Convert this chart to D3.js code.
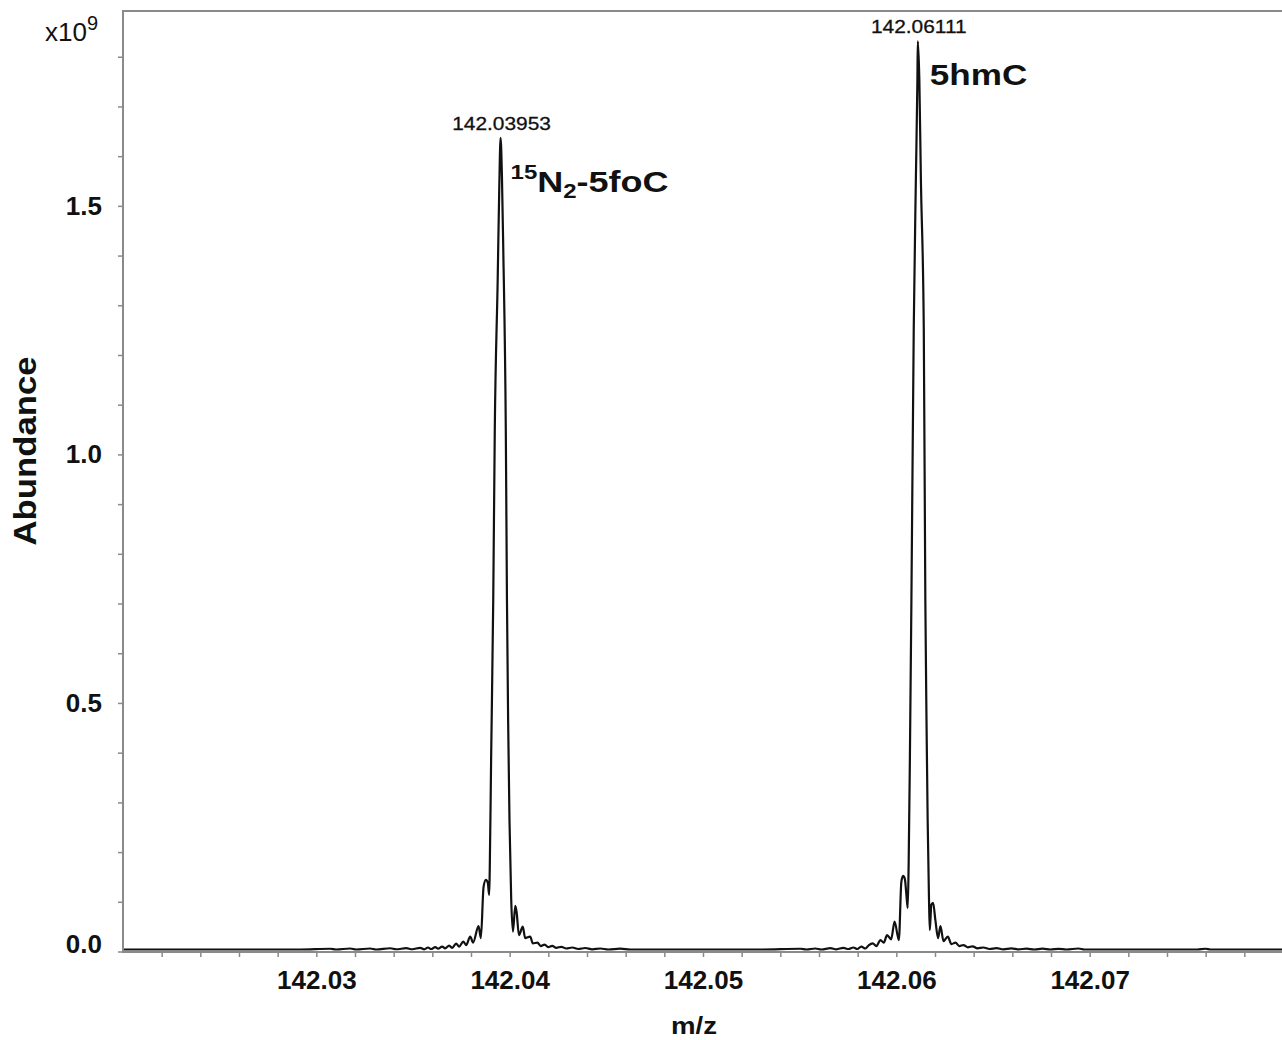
<!DOCTYPE html>
<html>
<head>
<meta charset="utf-8">
<script src="https://cdn.jsdelivr.net/npm/d3@7"></script>
<style>
  body { margin: 0; background: #fff; }
  svg { display: block; font-family: "Liberation Sans", Arial, sans-serif; }
</style>
</head>
<body>
<svg id="spectrum" width="1282" height="1040"></svg>
<script>
// Spectrum, m/z and abundance (x10^9), split in stretches
const leftMz = [142.02000, 142.02916, 142.03071, 142.03102, 142.03175, 142.03206, 142.03278, 142.03309,
  142.03382, 142.03413, 142.03465, 142.03496];
const leftAb = [0.004, 0.004, 0.0055, 0.004, 0.006, 0.004, 0.006, 0.004,
  0.0065, 0.0045, 0.0067, 0.0045];

const peak1Mz = [142.03537, 142.03558, 142.03578, 142.03594, 142.03615, 142.03630, 142.03651, 142.03666,
  142.03687, 142.03703, 142.03723, 142.03739, 142.03760, 142.03775, 142.03796, 142.03811,
  142.03839, 142.03851, 142.03865, 142.03877, 142.03887, 142.03894, 142.03897, 142.03904,
  142.03915, 142.03923, 142.03938, 142.03946, 142.03953, 142.03960, 142.03967, 142.03980,
  142.03986, 142.03992, 142.03999, 142.04008, 142.04017, 142.04029, 142.04036, 142.04048,
  142.04068, 142.04080, 142.04106, 142.04120, 142.04144, 142.04161, 142.04181, 142.04199,
  142.04220, 142.04241, 142.04267, 142.04293, 142.04324, 142.04355, 142.04391, 142.04427,
  142.04469, 142.04510, 142.04572, 142.04624];
const peak1Ab = [0.0074, 0.0044, 0.008, 0.005, 0.009, 0.0056, 0.010, 0.0064,
  0.012, 0.0074, 0.016, 0.010, 0.020, 0.013, 0.030, 0.018,
  0.051, 0.027, 0.130, 0.144, 0.138, 0.114, 0.164, 0.385,
  0.707, 1.049, 1.351, 1.532, 1.637, 1.560, 1.411, 1.049,
  0.707, 0.466, 0.265, 0.104, 0.040, 0.092, 0.079, 0.033,
  0.050, 0.027, 0.030, 0.0165, 0.0177, 0.011, 0.014, 0.009,
  0.0115, 0.0074, 0.0095, 0.006, 0.008, 0.005, 0.007, 0.0044,
  0.006, 0.004, 0.0056, 0.004];

const midMz = [142.04986, 142.05297, 142.05504, 142.05535, 142.05581, 142.05612, 142.05659, 142.05690,
  142.05726, 142.05752, 142.05778, 142.05798, 142.05819, 142.05840];
const midAb = [0.004, 0.004, 0.0055, 0.004, 0.006, 0.004, 0.0067, 0.0044,
  0.0074, 0.005, 0.008, 0.005, 0.010, 0.006];

const peak2Mz = [142.05858, 142.05878, 142.05897, 142.05918, 142.05935, 142.05952, 142.05973, 142.05991,
  142.06013, 142.06026, 142.06035, 142.06044, 142.06052, 142.06059, 142.06064, 142.06070,
  142.06078, 142.06090, 142.06101, 142.06109, 142.06111, 142.06119, 142.06127, 142.06142,
  142.06150, 142.06156, 142.06162, 142.06169, 142.06173, 142.06181, 142.06190, 142.06202,
  142.06216, 142.06228, 142.06244, 142.06266, 142.06285, 142.06306, 142.06326, 142.06347,
  142.06370, 142.06394, 142.06419, 142.06451, 142.06482, 142.06518, 142.06554, 142.06595,
  142.06632, 142.06673, 142.06714, 142.06756, 142.06797, 142.06839, 142.06880, 142.06942,
  142.06973];
const peak2Ab = [0.013, 0.0165, 0.011, 0.023, 0.0177, 0.033, 0.0245, 0.060,
  0.023, 0.140, 0.152, 0.146, 0.114, 0.0875, 0.184, 0.385,
  0.707, 1.251, 1.553, 1.754, 1.831, 1.754, 1.553, 1.251,
  0.707, 0.466, 0.265, 0.104, 0.043, 0.094, 0.098, 0.063,
  0.027, 0.051, 0.021, 0.030, 0.015, 0.0177, 0.011, 0.013,
  0.0085, 0.0105, 0.0064, 0.008, 0.005, 0.0066, 0.0044, 0.0062,
  0.0042, 0.0058, 0.004, 0.0058, 0.004, 0.0054, 0.004, 0.006,
  0.004];

const rightMz = [142.07557, 142.07599, 142.07625, 142.08000];
const rightAb = [0.004, 0.0055, 0.004, 0.004];

// Labelled peaks
const peakMz = [142.03953, 142.06111];
const peakAb = [1.637, 1.831];
const peakText = ["142.03953", "142.06111"];

const allMz = [...leftMz, ...peak1Mz, ...midMz, ...peak2Mz, ...rightMz];
const allAb = [...leftAb, ...peak1Ab, ...midAb, ...peak2Ab, ...rightAb];
const spectrum = allMz.map((d, i) => ({mz: d, ab: allAb[i]}));

const svg = d3.select("#spectrum");
const axisColor = "#8a8a8a";

const x = d3.scaleLinear().domain([142.02, 142.08]).range([123, 1283]);
const y = d3.scaleLinear().domain([0, 1.892]).range([951.5, 11]);

// spectrum trace
svg.append("path")
    .datum(spectrum)
    .attr("fill", "none")
    .attr("stroke", "#111")
    .attr("stroke-width", 2.2)
    .attr("stroke-linejoin", "round")
    .attr("d", d3.line().x(d => x(d.mz)).y(d => y(d.ab)).curve(d3.curveMonotoneX));

// x axis
const xTicks = d3.range(11, 40).map(i => 142 + i * 0.002);
const xAxis = svg.append("g")
    .attr("transform", "translate(0,952)")
    .call(d3.axisBottom(x)
        .tickValues(xTicks)
        .tickSize(5)
        .tickSizeOuter(0)
        .tickPadding(14)
        .tickFormat((d, i) => ((i + 11) % 5 === 0 ? d3.format(".2f")(d) : "")));

// y axis
const yTicks = d3.range(0, 19).map(i => i * 0.1);
const yAxis = svg.append("g")
    .attr("transform", "translate(123,0)")
    .call(d3.axisLeft(y)
        .tickValues(yTicks)
        .tickSize(5)
        .tickSizeOuter(0)
        .tickPadding(16)
        .tickFormat((d, i) => (i % 5 === 0 ? d3.format(".1f")(d) : "")));

[xAxis, yAxis].forEach(g => {
    g.select(".domain").attr("stroke", axisColor).attr("stroke-width", 2);
    g.selectAll(".tick line").attr("stroke", axisColor).attr("stroke-width", 1.5);
    g.selectAll(".tick text")
        .attr("fill", "#111")
        .style("font-size", "26px")
        .style("font-weight", "bold");
});
yAxis.select(".domain").attr("d", "M0,11V952");
xAxis.select(".domain").attr("d", "M122,0H1282");
yAxis.selectAll(".tick text").filter(d => d === 0).attr("dy", "0.02em");

// top frame line
svg.append("line")
    .attr("x1", 122).attr("x2", 1282)
    .attr("y1", 11).attr("y2", 11)
    .attr("stroke", axisColor)
    .attr("stroke-width", 2);

// axis titles
svg.append("text")
    .attr("transform", "translate(36,451) rotate(-90) scale(1.12,1)")
    .attr("text-anchor", "middle")
    .style("font-size", "31px")
    .style("font-weight", "bold")
    .attr("fill", "#111")
    .text("Abundance");

svg.append("text")
    .attr("transform", "translate(694,1034) scale(1.15,1)")
    .attr("text-anchor", "middle")
    .style("font-size", "24px")
    .style("font-weight", "bold")
    .attr("fill", "#111")
    .text("m/z");

const expo = svg.append("text")
    .attr("x", 45)
    .attr("y", 41)
    .style("font-size", "26px")
    .attr("fill", "#111");
expo.append("tspan").text("x10");
expo.append("tspan").attr("dy", -11).style("font-size", "20px").text("9");

// peak m/z labels
svg.selectAll("text.peak")
    .data(peakMz)
    .enter()
    .append("text")
    .attr("class", "peak")
    .attr("transform", (d, i) => "translate(" + (x(d) + 1) + "," + (y(peakAb[i]) - 8) + ") scale(1.1,1)")
    .attr("text-anchor", "middle")
    .style("font-size", "19px")
    .attr("fill", "#111")
    .attr("stroke", "#111")
    .attr("stroke-width", 0.3)
    .text((d, i) => peakText[i]);

// compound labels
const lab1 = svg.append("text")
    .attr("transform", "translate(" + (x(peakMz[0]) + 10) + "," + (y(peakAb[0]) + 54) + ") scale(1.2,1)")
    .style("font-weight", "bold")
    .attr("fill", "#111");
lab1.append("tspan").style("font-size", "20px").attr("dy", -13).text("15");
lab1.append("tspan").style("font-size", "30px").attr("dy", 13).text("N");
lab1.append("tspan").style("font-size", "20px").attr("dy", 6).text("2");
lab1.append("tspan").style("font-size", "30px").attr("dy", -6).text("-5foC");

svg.append("text")
    .attr("transform", "translate(" + (x(peakMz[1]) + 12) + "," + (y(peakAb[1]) + 44) + ") scale(1.17,1)")
    .style("font-weight", "bold")
    .style("font-size", "30px")
    .attr("fill", "#111")
    .text("5hmC");
</script>
</body>
</html>
